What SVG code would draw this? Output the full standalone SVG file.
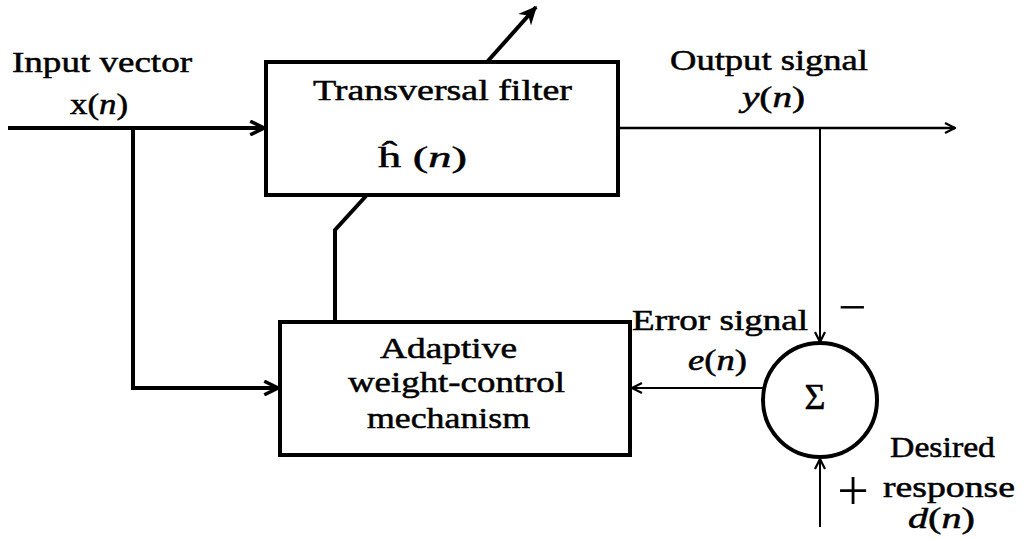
<svg xmlns="http://www.w3.org/2000/svg" width="1026" height="539" viewBox="0 0 1026 539">
  <style>
    .box { fill: #fff; stroke: #000; stroke-width: 4; }
    .thick { fill: none; stroke: #000; stroke-width: 4; }
    .mid { fill: none; stroke: #000; stroke-width: 2.6; }
    .thin { fill: none; stroke: #000; stroke-width: 2; }
  </style>
  <defs>
    <marker id="ah" viewBox="0 0 12 12" refX="11" refY="6" markerWidth="12" markerHeight="12" markerUnits="userSpaceOnUse" orient="auto">
      <path d="M1,1 L11,6 L1,11" fill="none" stroke="#000" stroke-width="2.2"/>
    </marker>
    <marker id="ahb" viewBox="0 0 14 14" refX="13" refY="7" markerWidth="16" markerHeight="16" markerUnits="userSpaceOnUse" orient="auto">
      <path d="M1,1 L13,7 L1,13" fill="none" stroke="#000" stroke-width="3"/>
    </marker>
    <marker id="tip" viewBox="0 0 14 14" refX="12" refY="7" markerWidth="20" markerHeight="20" markerUnits="userSpaceOnUse" orient="auto">
      <path d="M0,1 L13,7 L0,13 L4,7 Z" fill="#000"/>
    </marker>
  </defs>

  <rect width="1026" height="539" fill="#fff"/>

  <!-- connectors -->
  <g id="connectors">
    <!-- input vector into the filter -->
    <line class="thick" x1="8" y1="128" x2="264" y2="128" marker-end="url(#ahb)"/>
    <!-- branch of the input down to the weight-control block -->
    <polyline class="thick" points="133,128 133,388 278,388" marker-end="url(#ahb)"/>
    <!-- weight adjustment path crossing the filter -->
    <polyline class="thick" points="335,322 335,230 366,196"/>
    <line class="thick" x1="487" y1="62" x2="536" y2="7" marker-end="url(#tip)"/>
    <!-- output signal -->
    <line class="mid" x1="618" y1="128" x2="955" y2="128" marker-end="url(#ah)"/>
    <!-- output to summing junction -->
    <line class="thin" x1="820" y1="128" x2="820" y2="342" marker-end="url(#ah)"/>
    <!-- desired response into summing junction -->
    <line class="thin" x1="820" y1="527" x2="820" y2="459" marker-end="url(#ah)"/>
    <!-- error signal back to weight-control block -->
    <line class="thin" x1="763" y1="388" x2="632" y2="388" marker-end="url(#ah)"/>
  </g>

  <g font-family="'Liberation Serif', 'Times New Roman', serif" font-size="29" fill="#000" stroke="#000" stroke-width="0.5">
    <!-- transversal filter -->
    <g id="filter">
      <rect class="box" x="266" y="62" width="352" height="133"/>
      <text x="313" y="100" textLength="259" lengthAdjust="spacingAndGlyphs">Transversal filter</text>
      <text x="378" y="167" textLength="89" lengthAdjust="spacingAndGlyphs">ĥ (<tspan font-style="italic">n</tspan>)</text>
    </g>

    <!-- adaptive weight-control mechanism -->
    <g id="adaptive">
      <rect class="box" x="280" y="322" width="350" height="133"/>
      <text x="380" y="358" textLength="137" lengthAdjust="spacingAndGlyphs">Adaptive</text>
      <text x="348" y="392" textLength="217" lengthAdjust="spacingAndGlyphs">weight-control</text>
      <text x="367" y="428" textLength="163" lengthAdjust="spacingAndGlyphs">mechanism</text>
    </g>

    <!-- summing junction -->
    <g id="sum">
      <circle cx="820" cy="400" r="57" fill="#fff" stroke="#000" stroke-width="4"/>
      <text x="815" y="409" text-anchor="middle" font-size="36">Σ</text>
    </g>

    <!-- signal labels -->
    <g id="labels">
      <text x="12" y="72" textLength="180" lengthAdjust="spacingAndGlyphs">Input vector</text>
      <text x="70" y="114" textLength="58" lengthAdjust="spacingAndGlyphs">x(<tspan font-style="italic">n</tspan>)</text>
      <text x="670" y="70" textLength="198" lengthAdjust="spacingAndGlyphs">Output signal</text>
      <text x="742" y="107" textLength="63" lengthAdjust="spacingAndGlyphs"><tspan font-style="italic">y</tspan>(<tspan font-style="italic">n</tspan>)</text>
      <text x="632" y="330" textLength="176" lengthAdjust="spacingAndGlyphs">Error signal</text>
      <text x="688" y="370" textLength="59" lengthAdjust="spacingAndGlyphs"><tspan font-style="italic">e</tspan>(<tspan font-style="italic">n</tspan>)</text>
      <text x="852" y="324" text-anchor="middle" font-size="50" stroke-width="0">−</text>
      <text x="853" y="510" text-anchor="middle" font-size="56" stroke-width="0">+</text>
      <text x="890" y="457" textLength="105" lengthAdjust="spacingAndGlyphs">Desired</text>
      <text x="883" y="497" textLength="132" lengthAdjust="spacingAndGlyphs">response</text>
      <text x="908" y="528" textLength="67" lengthAdjust="spacingAndGlyphs"><tspan font-style="italic">d</tspan>(<tspan font-style="italic">n</tspan>)</text>
    </g>
  </g>
</svg>
